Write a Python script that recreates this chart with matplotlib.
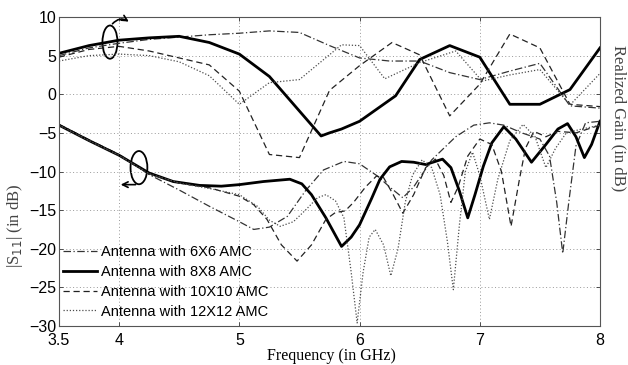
import numpy as np
import matplotlib
matplotlib.use('Agg')
import matplotlib.pyplot as plt
from matplotlib.patches import Ellipse

# --- Gain realise (dB) ---
f_g66 = [3.5, 3.75, 4.0, 4.25, 4.5, 4.75, 5.0, 5.25, 5.5, 5.75, 6.0, 6.25, 6.5, 6.75, 7.0, 7.25, 7.5, 7.75, 8.0]
g66 = [5.0, 6.0, 6.6, 7.1, 7.4, 7.7, 7.9, 8.2, 8.0, 6.3, 4.7, 4.3, 4.3, 2.8, 1.9, 3.0, 4.0, -1.5, -1.8]

f_g88 = [3.5, 3.75, 4.0, 4.25, 4.5, 4.75, 5.0, 5.25, 5.68, 5.75, 5.85, 6.0, 6.3, 6.5, 6.75, 7.0, 7.25, 7.5, 7.75, 8.0]
g88 = [5.3, 6.3, 7.0, 7.3, 7.5, 6.7, 5.2, 2.3, -5.4, -5.0, -4.5, -3.5, -0.2, 4.5, 6.3, 4.8, -1.3, -1.3, 0.6, 6.0]

f_g1010 = [3.5, 3.75, 4.0, 4.25, 4.5, 4.75, 5.0, 5.25, 5.5, 5.75, 6.0, 6.27, 6.5, 6.75, 7.0, 7.25, 7.5, 7.75, 8.0]
g1010 = [4.8, 5.8, 6.2, 5.6, 4.7, 3.8, 0.4, -7.8, -8.2, 0.5, 3.7, 6.7, 5.1, -2.8, 1.3, 7.8, 6.0, -1.3, -1.6]

f_g1212 = [3.5, 3.75, 4.0, 4.25, 4.5, 4.75, 5.0, 5.25, 5.5, 5.85, 6.0, 6.21, 6.5, 6.8, 7.02, 7.25, 7.5, 7.75, 8.0]
g1212 = [4.3, 5.0, 5.2, 5.0, 4.2, 2.4, -1.3, 1.5, 1.9, 6.4, 6.3, 2.0, 4.1, 5.6, 1.7, 2.5, 3.2, -1.4, 2.7]

# --- |S11| (dB) ---
f_s66 = [3.5, 3.75, 4.0, 4.25, 4.5, 4.75, 5.0, 5.12, 5.25, 5.4, 5.55, 5.7, 5.87, 6.0, 6.15, 6.25,
         6.36, 6.45, 6.6, 6.8, 6.95, 7.08, 7.2, 7.35, 7.5, 7.58, 7.64, 7.69, 7.74, 7.8, 7.88, 8.0]
s66 = [-3.9, -5.9, -7.8, -10.4, -12.4, -14.5, -16.5, -17.5, -17.2, -15.8, -12.5, -9.8, -8.7, -9.0, -10.6, -12.0,
       -13.4, -12.0, -8.5, -5.5, -4.0, -3.7, -4.0, -5.0, -5.8, -8.0, -14.0, -20.6, -14.0, -6.7, -3.7, -3.5]

f_s88 = [3.5, 3.75, 4.0, 4.25, 4.45, 4.67, 4.85, 5.0, 5.2, 5.42, 5.52, 5.6, 5.72, 5.85, 5.93, 6.0,
         6.1, 6.17, 6.25, 6.35, 6.45, 6.55, 6.69, 6.76, 6.83, 6.9, 6.96, 7.03, 7.1, 7.2, 7.3, 7.43,
         7.55, 7.65, 7.73, 7.8, 7.87, 7.93, 8.0]
s88 = [-4.0, -6.0, -7.9, -10.2, -11.3, -11.8, -11.9, -11.7, -11.3, -11.0, -11.6, -13.0, -16.0, -19.7, -18.5, -16.9,
       -13.5, -11.0, -9.4, -8.7, -8.8, -9.1, -8.4, -9.5, -12.5, -16.0, -13.0, -9.3, -6.3, -4.2, -5.8, -8.8,
       -6.5, -4.5, -3.8, -5.5, -8.2, -6.5, -3.5]

f_s1010 = [3.5, 3.75, 4.0, 4.25, 4.5, 4.75, 5.0, 5.12, 5.23, 5.35, 5.48, 5.6, 5.72, 5.8, 5.88, 5.95,
           6.05, 6.14, 6.2, 6.28, 6.36, 6.45, 6.55, 6.63, 6.7, 6.76, 6.82, 6.9, 7.0, 7.1, 7.18, 7.26,
           7.33, 7.38, 7.45, 7.55, 7.65, 7.8, 7.9, 8.0]
s1010 = [-4.0, -6.0, -7.9, -10.3, -11.5, -12.1, -13.2, -14.3, -16.2, -19.5, -21.6, -19.5, -16.2, -15.3, -15.1, -14.0,
         -12.0, -10.6, -10.8, -13.0, -15.4, -13.0, -9.5, -8.4, -10.5, -14.0, -12.0, -8.0, -5.8, -6.5, -10.0, -17.1,
         -11.0, -7.0, -4.8, -5.5, -4.8, -5.0, -4.5, -4.0]

f_s1212 = [3.5, 3.75, 4.0, 4.25, 4.5, 4.75, 5.0, 5.15, 5.25, 5.34, 5.45, 5.55, 5.65, 5.72, 5.8, 5.87,
           5.93, 5.98, 6.03, 6.08, 6.13, 6.2, 6.26, 6.32, 6.38, 6.44, 6.52, 6.6, 6.67, 6.73, 6.78, 6.83,
           6.88, 6.94, 7.0, 7.08, 7.15, 7.25, 7.36, 7.46, 7.55, 7.63, 7.72, 7.85, 8.0]
s1212 = [-4.0, -6.0, -7.9, -10.3, -11.5, -12.2, -13.0, -14.5, -16.3, -17.1, -16.5, -15.0, -13.4, -13.0, -13.8, -16.0,
         -23.0, -29.6, -23.0, -18.5, -17.5, -19.5, -23.5, -20.0, -14.0, -10.5, -8.5, -9.5, -13.0, -19.0, -25.3, -17.0,
         -10.0, -7.5, -10.5, -16.2, -11.0, -6.0, -3.9, -5.5, -9.5, -7.0, -5.0, -4.5, -4.0]

labels = ['Antenna with 6X6 AMC', 'Antenna with 8X8 AMC',
          'Antenna with 10X10 AMC', 'Antenna with 12X12 AMC']

x_ticks = [3.5, 4, 5, 6, 7, 8]
x_ticklabels = ['3.5', '4', '5', '6', '7', '8']
y_ticks = [-30, -25, -20, -15, -10, -5, 0, 5, 10]

plt.rcParams['font.family'] = ['Liberation Sans', 'DejaVu Sans']

fig = plt.figure(figsize=(6.28, 3.65), dpi=100)
ax = fig.add_axes([59 / 628, 1 - 326 / 365, 541 / 628, 309 / 365])

thin = 0.9
thick = 2.0
sty66 = dict(color='#333333', lw=thin, linestyle=(0, (6, 2, 1, 2)))
sty88 = dict(color='black', lw=thick, linestyle='-')
sty1010 = dict(color='#222222', lw=thin, linestyle=(0, (5, 3)))
sty1212 = dict(color='#4d4d4d', lw=thin, linestyle=(0, (1, 1.5)))

ax.plot(f_g66, g66, **sty66)
ax.plot(f_g88, g88, **sty88)
ax.plot(f_g1010, g1010, **sty1010)
ax.plot(f_g1212, g1212, **sty1212)

h66, = ax.plot(f_s66, s66, label=labels[0], **sty66)
h88, = ax.plot(f_s88, s88, label=labels[1], **sty88)
h1010, = ax.plot(f_s1010, s1010, label=labels[2], **sty1010)
h1212, = ax.plot(f_s1212, s1212, label=labels[3], **sty1212)

ax.set_xlim(3.5, 8)
ax.set_ylim(-30, 10)
ax.set_xticks(x_ticks)
ax.set_xticklabels(x_ticklabels)
ax.set_yticks(y_ticks)
ax.tick_params(direction='in', length=3, width=0.6, labelsize=11.5, top=True, right=True,
               colors='#333333', labelcolor='black')
ax.tick_params(axis='x', pad=5)
ax.tick_params(axis='y', pad=2)
ax.grid(True, color='#999999', linestyle=(0, (1, 2.5)), lw=0.7)
for sp in ax.spines.values():
    sp.set_color('#555555')
    sp.set_linewidth(0.8)

leg = ax.legend(handles=[h66, h88, h1010, h1212], loc='upper left',
                bbox_to_anchor=(0.007, 0.262), frameon=False, fontsize=10.5,
                handlelength=2.35, handletextpad=0.25, labelspacing=0.4,
                borderaxespad=0, borderpad=0)

# ellipses + fleches reperant les deux familles de courbes
ax.add_patch(Ellipse((3.924, 6.75), 0.125, 4.3, fill=False, color='black', lw=1.3))
ax.annotate('', xy=(4.1, 9.2), xytext=(3.93, 8.85),
            arrowprops=dict(arrowstyle='->', color='black', lw=1.2,
                            connectionstyle='arc3,rad=-0.5'))
ax.add_patch(Ellipse((4.165, -9.5), 0.14, 4.3, fill=False, color='black', lw=1.3))
ax.annotate('', xy=(3.99, -11.7), xytext=(4.16, -11.7),
            arrowprops=dict(arrowstyle='->', color='black', lw=1.2))

fig.text(331 / 628, 1 - 356 / 365, 'Frequency (in GHz)', family='Liberation Serif',
         fontsize=11.5, ha='center', va='center')
fig.text(15 / 628, 1 - 226 / 365, '|S$_{11}$| (in dB)', family='Liberation Serif',
         fontsize=12, ha='center', va='center', rotation=90, color='#444444')
fig.text(619 / 628, 1 - 118 / 365, 'Realized Gain (in dB)', family='Liberation Serif',
         fontsize=12, ha='center', va='center', rotation=270, color='#444444')

fig.savefig('out.png', dpi=100)
